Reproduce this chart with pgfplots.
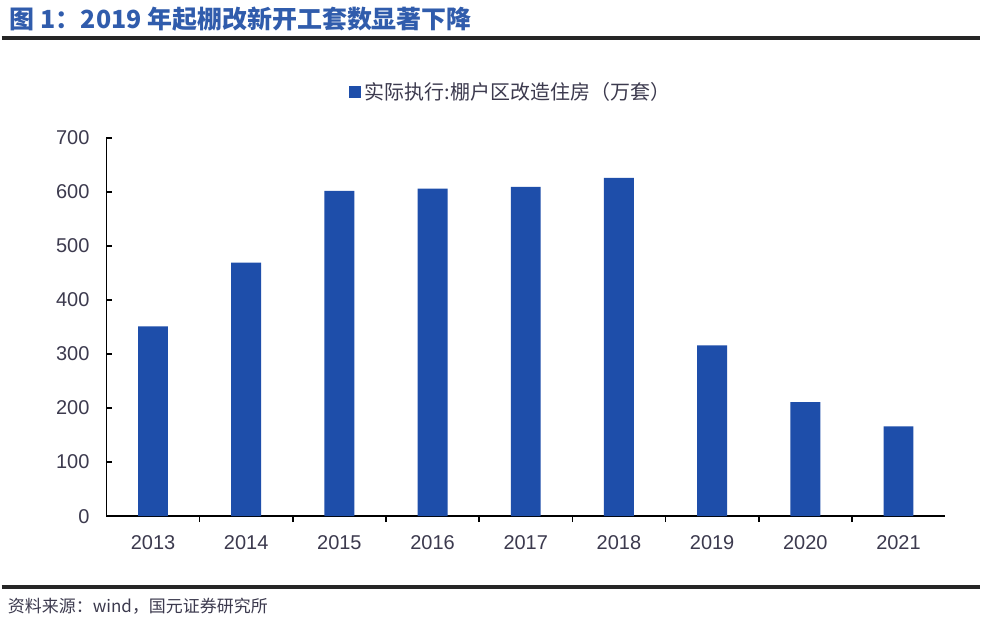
\documentclass[border=0pt]{standalone}
\usepackage{pgfplots}
\pgfplotsset{compat=1.18}
\usepackage{fontspec}
\setmainfont{Liberation Sans}
\newfontfamily\cjk{Noto Sans CJK SC}
\definecolor{barblue}{RGB}{30,78,170}
\definecolor{titleblue}{RGB}{48,92,172}
\definecolor{txtgray}{RGB}{60,58,78}
\begin{document}
\begin{tikzpicture}
\fill[white] (0,0) rectangle (500pt,-312.5pt);
\node[anchor=west, text=titleblue, font=\cjk\bfseries\fontsize{12.5}{14}\selectfont, inner sep=0pt] at (4pt,-9.5pt) {图 1：2019 年起棚改新开工套数显著下降};
\draw[line width=1.6pt, black!85] (0,-19pt) -- (490pt,-19pt);
\draw[line width=1.6pt, black!85] (0,-294pt) -- (490pt,-294pt);
\node[anchor=west, text=txtgray, font=\cjk\fontsize{8.5}{10}\selectfont, inner sep=0pt] at (3pt,-303.5pt) {资料来源：wind，国元证券研究所};
\begin{axis}[
  at={(52.5pt,-258.5pt)}, anchor=south west,
  scale only axis, width=420pt, height=189.5pt,
  xmin=-0.5, xmax=8.5, ymin=0, ymax=700,
  axis x line*=bottom, axis y line*=left,
  axis line style={black, line width=0.8pt},
  ytick={0,100,...,700},
  xtick={0.5,1.5,...,7.5},
  xticklabels={},
  extra x ticks={0,...,8},
  extra x tick labels={2013,2014,2015,2016,2017,2018,2019,2020,2021},
  extra x tick style={tick style={draw=none}},
  tick align=inside,
  major tick length=3pt,
  tick style={black, line width=0.8pt},
  ticklabel style={font=\fontsize{10}{12}\selectfont, text=txtgray},
  /pgf/number format/assume math mode=true,
  yticklabel style={xshift=-5pt},
  xticklabel style={yshift=-3pt},
  ybar, bar width=15pt,
  legend style={at={(0.483,1.12)}, anchor=center, draw=none, fill=none,
    font=\cjk\fontsize{10}{12}\selectfont, text=txtgray},
  legend image code/.code={\fill[barblue] (0pt,-3pt) rectangle (6pt,3pt);},
]
\addplot[fill=barblue, draw=none] coordinates {
(0,351) (1,469) (2,602) (3,606) (4,609) (5,626) (6,316) (7,211) (8,166)};
\addlegendentry{实际执行:棚户区改造住房（万套）}
\end{axis}
\end{tikzpicture}
\end{document}
